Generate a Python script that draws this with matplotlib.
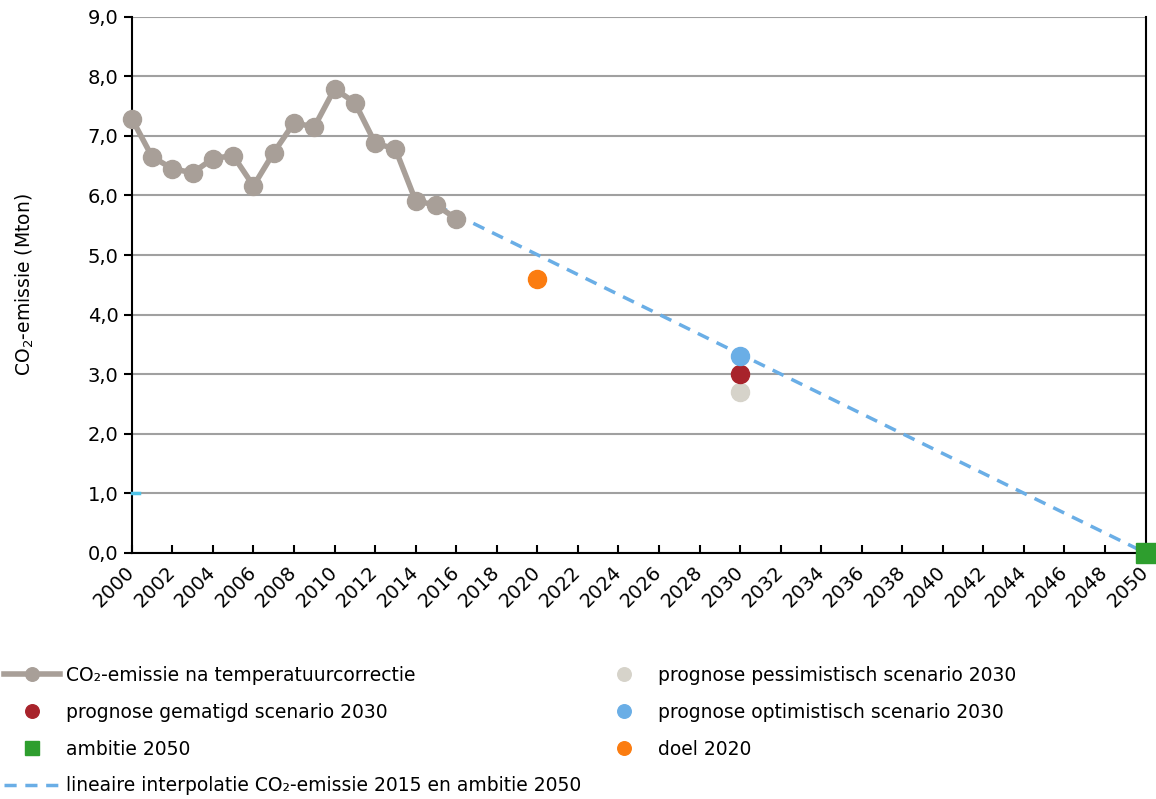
import matplotlib.pyplot as plt
from matplotlib.ticker import FuncFormatter, MultipleLocator

# historic CO2 emission after temperature correction (Mton)
years = list(range(2000, 2017))
emissie = [7.29, 6.65, 6.45, 6.38, 6.62, 6.67, 6.16, 6.72, 7.22, 7.15,
           7.79, 7.56, 6.88, 6.78, 5.91, 5.84, 5.61]

doel_jaar, doel_waarde = [2020], [4.6]
scen_jaar = [2030]
pessimistisch = [2.7]
gematigd = [3.0]
optimistisch = [3.3]
ambitie_jaar, ambitie_waarde = [2050], [0.0]
interp_jaar = [2015, 2050]
interp_waarde = [5.84, 0.0]
rest_jaar, rest_waarde = [2000, 2000.35], [1.0, 1.0]

plt.rcParams['font.family'] = 'DejaVu Sans'

fig = plt.figure(figsize=(11.56, 7.99), dpi=100)
ax = fig.add_axes([0.114, 0.308, 0.877, 0.671])

ax.yaxis.grid(True, color='#a0a0a0', linewidth=1.5, zorder=0)
ax.set_axisbelow(True)

l_int, = ax.plot(interp_jaar, interp_waarde, color='#6aaee6', lw=2.5,
                 dashes=(3.5, 2.5), zorder=3,
                 label='lineaire interpolatie CO\u2082-emissie 2015 en ambitie 2050')
l_hist, = ax.plot(years, emissie, color='#a89f98', lw=4, marker='o', ms=13,
                  zorder=4, clip_on=False,
                  label='CO\u2082-emissie na temperatuurcorrectie')
p_doel, = ax.plot(doel_jaar, doel_waarde, 'o', color='#fb7c10', ms=13, zorder=5,
                  label='doel 2020')
p_pes, = ax.plot(scen_jaar, pessimistisch, 'o', color='#d6d3ca', ms=13, zorder=5,
                 label='prognose pessimistisch scenario 2030')
p_gem, = ax.plot(scen_jaar, gematigd, 'o', color='#a8232b', ms=13, zorder=5,
                 label='prognose gematigd scenario 2030')
p_opt, = ax.plot(scen_jaar, optimistisch, 'o', color='#6aaee6', ms=13, zorder=5,
                 label='prognose optimistisch scenario 2030')
p_amb, = ax.plot(ambitie_jaar, ambitie_waarde, 's', color='#2e9e2e', ms=14,
                 zorder=6, clip_on=False, label='ambitie 2050')
ax.plot(rest_jaar, rest_waarde, color='#4fc3e8', lw=2.5, zorder=6, clip_on=False)

ax.set_xlim(2000, 2050)
ax.set_ylim(0, 9)
ax.xaxis.set_major_locator(MultipleLocator(2))
ax.yaxis.set_major_locator(MultipleLocator(1))
ax.yaxis.set_major_formatter(FuncFormatter(lambda v, p: ('%.1f' % v).replace('.', ',')))
ax.tick_params(axis='y', direction='out', length=6, width=1.5, labelsize=14)
ax.tick_params(axis='x', direction='in', length=6, width=1.5, labelsize=14, pad=12)
for lab in ax.get_xticklabels():
    lab.set_rotation(45)
    lab.set_ha('right')
    lab.set_va('center')
    lab.set_rotation_mode('anchor')

ax.spines['top'].set_visible(False)
for s in ['left', 'bottom', 'right']:
    ax.spines[s].set_linewidth(1.5)
    ax.spines[s].set_color('black')

ax.set_ylabel('CO$_2$-emissie (Mton)', fontsize=13.5, labelpad=37)

handles = [l_hist, p_gem, p_amb, l_int, p_pes, p_opt, p_doel]
fig.legend(handles, [h.get_label() for h in handles], ncol=2,
           loc='upper left', bbox_to_anchor=(-0.003, 0.176), frameon=False,
           fontsize=13.5, handlelength=3.0, handletextpad=0.3,
           columnspacing=0.8, labelspacing=0.95, markerscale=0.75,
           borderaxespad=0.0)

fig.savefig('out.png', dpi=100)
